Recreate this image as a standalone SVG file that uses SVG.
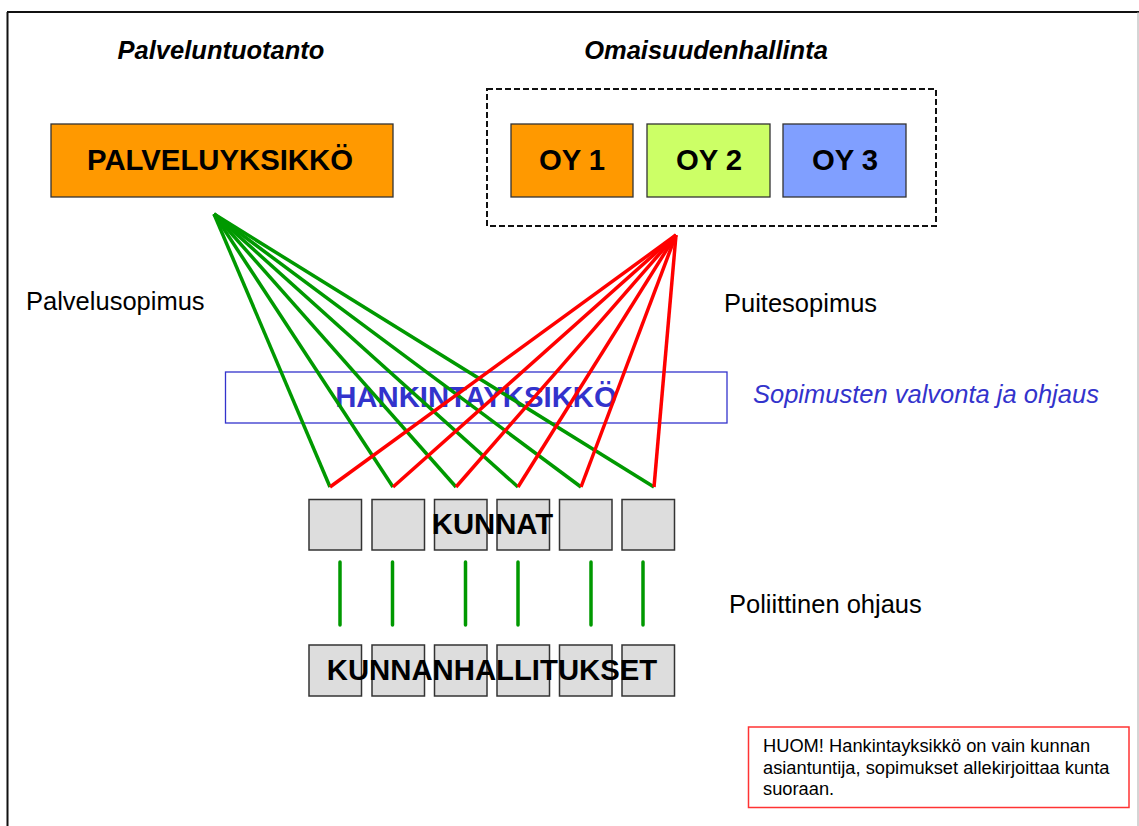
<svg xmlns="http://www.w3.org/2000/svg" width="1139" height="826" viewBox="0 0 1139 826">
<defs>
<style>
.t{font-family:"Liberation Sans",Arial,sans-serif;fill:#000}
.big{font-size:29.3px;font-weight:bold}
.title{font-size:25.5px;font-weight:bold;font-style:italic}
.lab{font-size:25.5px}
.small{font-size:18.3px}
.box{stroke:#333;stroke-width:1.3}
.sq{fill:#DDDDDD;stroke:#333;stroke-width:1.5}
.g{stroke:#009900;stroke-width:3.5;fill:none}
.r{stroke:#FF0000;stroke-width:3.5;fill:none}
.v{stroke:#009900;stroke-width:3.5;stroke-linecap:round}
</style>
</defs>
<rect x="0" y="0" width="1139" height="826" fill="#fff"/>
<g id="frame">
<line x1="7" y1="12" x2="1139" y2="12" stroke="#111" stroke-width="2"/>
<line x1="7.5" y1="12" x2="7.5" y2="826" stroke="#111" stroke-width="2"/>
<line x1="1138" y1="12" x2="1138" y2="826" stroke="#aaa" stroke-width="1"/>
</g>
<g id="title-palveluntuotanto"><text class="t title" x="221" y="59" text-anchor="middle">Palveluntuotanto</text></g>
<g id="title-omaisuudenhallinta"><text class="t title" x="706" y="59" text-anchor="middle">Omaisuudenhallinta</text></g>
<g id="palveluyksikko">
<rect class="box" x="51" y="124" width="342" height="73" fill="#FF9900"/>
<text class="t big" x="220" y="170" text-anchor="middle">PALVELUYKSIKKÖ</text>
</g>
<g id="omaisuus-group">
<rect x="487" y="89" width="449" height="137" fill="none" stroke="#111" stroke-width="2" stroke-dasharray="6 3"/>
</g>
<g id="oy1">
<rect class="box" x="511" y="124" width="122" height="73" fill="#FF9900"/>
<text class="t big" x="572" y="170" text-anchor="middle">OY 1</text>
</g>
<g id="oy2">
<rect class="box" x="647" y="124" width="123" height="73" fill="#CCFF66"/>
<text class="t big" x="709" y="170" text-anchor="middle">OY 2</text>
</g>
<g id="oy3">
<rect class="box" x="783" y="124" width="123" height="73" fill="#809FFF"/>
<text class="t big" x="845" y="170" text-anchor="middle">OY 3</text>
</g>
<g id="label-palvelusopimus"><text class="t lab" x="26" y="310">Palvelusopimus</text></g>
<g id="label-puitesopimus"><text class="t lab" x="724" y="312">Puitesopimus</text></g>
<g id="hankintayksikko">
<rect x="225.5" y="372" width="501.5" height="51" fill="#fff" stroke="#3333CC" stroke-width="1.3"/>
<text class="t big" x="476" y="407" text-anchor="middle" style="fill:#3333CC">HANKINTAYKSIKKÖ</text>
</g>
<g id="label-valvonta"><text class="t lab" x="753" y="403" style="fill:#3333CC;font-style:italic">Sopimusten valvonta ja ohjaus</text></g>
<g id="connectors">
<line class="g" x1="214" y1="214" x2="330" y2="487"/>
<line class="g" x1="214" y1="214" x2="393" y2="487"/>
<line class="g" x1="214" y1="214" x2="456" y2="487"/>
<line class="g" x1="214" y1="214" x2="518" y2="487"/>
<line class="g" x1="214" y1="214" x2="581" y2="487"/>
<line class="g" x1="214" y1="214" x2="654" y2="487"/>
<line class="r" x1="676" y1="235" x2="330" y2="487"/>
<line class="r" x1="676" y1="235" x2="393" y2="487"/>
<line class="r" x1="676" y1="235" x2="456" y2="487"/>
<line class="r" x1="676" y1="235" x2="518" y2="487"/>
<line class="r" x1="676" y1="235" x2="581" y2="487"/>
<line class="r" x1="676" y1="235" x2="654" y2="487"/>
<line class="v" x1="340" y1="562" x2="340" y2="625"/>
<line class="v" x1="392.5" y1="562" x2="392.5" y2="625"/>
<line class="v" x1="465.5" y1="562" x2="465.5" y2="625"/>
<line class="v" x1="518" y1="562" x2="518" y2="625"/>
<line class="v" x1="591" y1="562" x2="591" y2="625"/>
<line class="v" x1="643" y1="562" x2="643" y2="625"/>
</g>
<g id="kunnat">
<rect class="sq" x="309" y="499.5" width="52.5" height="50.5"/>
<rect class="sq" x="372" y="499.5" width="52.5" height="50.5"/>
<rect class="sq" x="434.5" y="499.5" width="52.5" height="50.5"/>
<rect class="sq" x="497" y="499.5" width="52.5" height="50.5"/>
<rect class="sq" x="559.5" y="499.5" width="52.5" height="50.5"/>
<rect class="sq" x="622" y="499.5" width="52.5" height="50.5"/>
<text class="t big" x="492.5" y="534" text-anchor="middle">KUNNAT</text>
</g>
<g id="label-poliittinen"><text class="t lab" x="729" y="613">Poliittinen ohjaus</text></g>
<g id="kunnanhallitukset">
<rect class="sq" x="309" y="645" width="52.5" height="51"/>
<rect class="sq" x="372" y="645" width="52.5" height="51"/>
<rect class="sq" x="434.5" y="645" width="52.5" height="51"/>
<rect class="sq" x="497" y="645" width="52.5" height="51"/>
<rect class="sq" x="559.5" y="645" width="52.5" height="51"/>
<rect class="sq" x="622" y="645" width="52.5" height="51"/>
<text class="t big" x="492" y="680" text-anchor="middle">KUNNANHALLITUKSET</text>
</g>
<g id="huom">
<rect x="748.5" y="727" width="380.5" height="80.5" fill="#fff" stroke="#FF3333" stroke-width="1.5"/>
<text class="t small" x="763" y="752">HUOM! Hankintayksikkö on vain kunnan</text>
<text class="t small" x="763" y="773.5">asiantuntija, sopimukset allekirjoittaa kunta</text>
<text class="t small" x="763" y="795">suoraan.</text>
</g>
</svg>
